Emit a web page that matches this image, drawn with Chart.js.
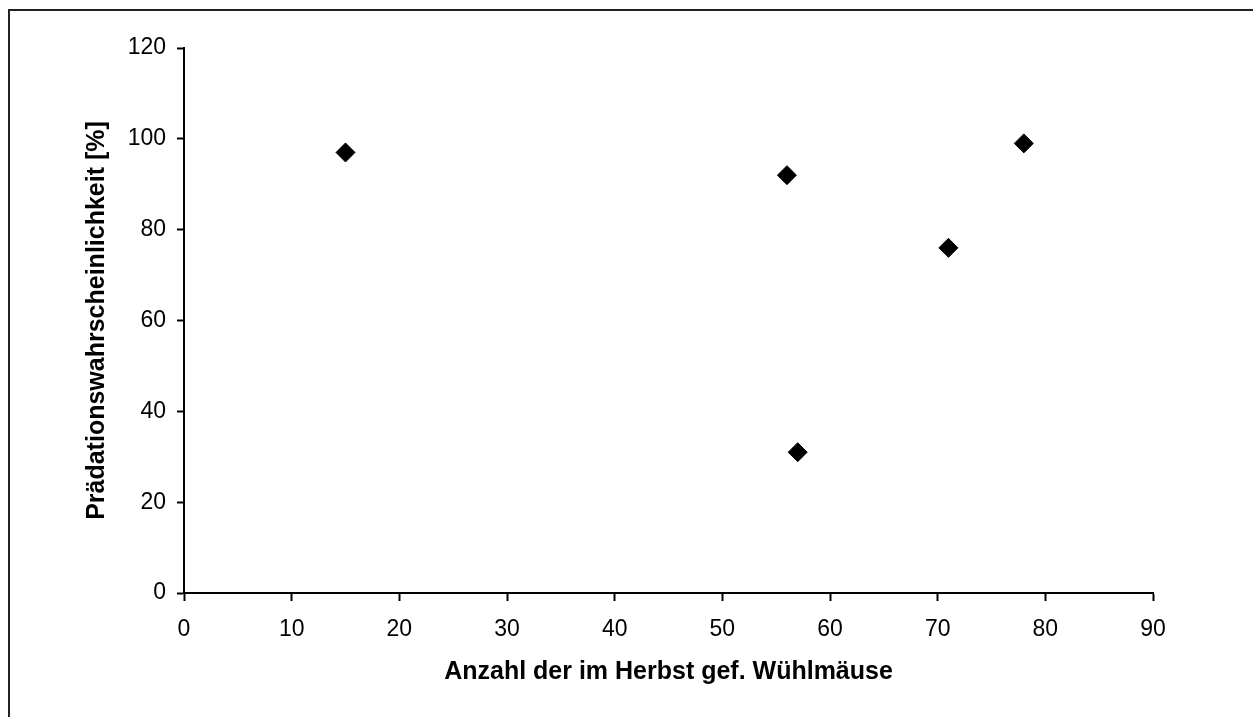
<!DOCTYPE html>
<html lang="de">
<head>
<meta charset="utf-8">
<title>Prädationswahrscheinlichkeit</title>
<script src="https://cdn.jsdelivr.net/npm/chart.js@4/dist/chart.umd.min.js"></script>
<style>

    html, body {
        margin: 0;
        padding: 0;
        background: #ffffff;
        overflow: hidden;
    }

    #frame {
        position: absolute;
        left: 8px;
        top: 9px;
        right: 0;
        bottom: 0;
        border-top: 2px solid #222222;
        border-left: 2px solid #222222;
    }

    #chartBox {
        position: absolute;
        left: 0;
        top: 0;
        width: 1253px;
        height: 717px;
    }

</style>
</head>
<body>

<div id="frame"></div>

<div id="chartBox">
    <canvas id="scatterChart" width="1253" height="717"></canvas>
</div>

<script>

// ======================================================
// DATA
// ======================================================

const voleCounts = [15, 56, 57, 71, 78];

const predationRates = [97, 92, 31, 76, 99];

const xTickValues = [0, 10, 20, 30, 40, 50, 60, 70, 80, 90];

const yTickValues = [0, 20, 40, 60, 80, 100, 120];

const xTitle = "Anzahl der im Herbst gef. Wühlmäuse";

const yTitle = "Prädationswahrscheinlichkeit [%]";

// ======================================================
// COMMON STYLE
// ======================================================

const fontFamily = "'Liberation Sans', Arial, sans-serif";

const tickFont = { family: fontFamily, size: 23 };

const titleFont = { family: fontFamily, size: 25, weight: "bold" };

const axisBorder = {

    color: "#000000",

    width: 2

};

// ======================================================
// CHART
// ======================================================

function createScatterChart() {

    const canvas =
    document.getElementById("scatterChart");

    const points = voleCounts.map(
        (x, i) => ({ x: x, y: predationRates[i] })
    );

    new Chart(canvas, {

        type: "scatter",

        data: {

            datasets: [{

                data: points,

                pointStyle: "rectRot",

                pointRadius: 9.5,

                pointHoverRadius: 9.5,

                pointBorderWidth: 1,

                backgroundColor: "#000000",

                borderColor: "#000000"

            }]

        },

        options: {

            responsive: false,

            animation: false,

            events: [],

            layout: {

                padding: { left: 0, top: 48, right: 100, bottom: 0 }

            },

            plugins: {

                legend: { display: false },

                tooltip: { enabled: false }

            },

            scales: {

                x: {

                    type: "linear",

                    min: xTickValues[0],

                    max: xTickValues[xTickValues.length - 1],

                    afterBuildTicks: function(scale) {

                        scale.ticks = xTickValues.map(v => ({ value: v }));

                    },

                    afterFit: function(scale) {

                        scale.height = 124;

                    },

                    ticks: {

                        color: "#000000",

                        font: tickFont,

                        padding: 15,

                        maxRotation: 0

                    },

                    grid: {

                        drawOnChartArea: false,

                        drawTicks: true,

                        tickLength: 8,

                        tickColor: "#000000",

                        tickWidth: 2

                    },

                    border: axisBorder,

                    title: {

                        display: true,

                        text: xTitle,

                        color: "#000000",

                        font: titleFont,

                        padding: { top: 0, bottom: 30 }

                    }

                },

                y: {

                    type: "linear",

                    min: yTickValues[0],

                    max: yTickValues[yTickValues.length - 1],

                    afterBuildTicks: function(scale) {

                        scale.ticks = yTickValues.map(v => ({ value: v }));

                    },

                    afterFit: function(scale) {

                        scale.width = 184;

                    },

                    ticks: {

                        color: "#000000",

                        font: tickFont,

                        padding: 11

                    },

                    grid: {

                        drawOnChartArea: false,

                        drawTicks: true,

                        tickLength: 7,

                        tickColor: "#000000",

                        tickWidth: 2

                    },

                    border: axisBorder,

                    title: {

                        display: true,

                        text: yTitle,

                        color: "#000000",

                        font: titleFont,

                        padding: { top: 82, bottom: 0 }

                    }

                }

            }

        }

    });

}

// ======================================================
// INITIALIZE
// ======================================================

document.addEventListener(

    "DOMContentLoaded",

    function() {

        createScatterChart();

    }

);

</script>
</body>
</html>
